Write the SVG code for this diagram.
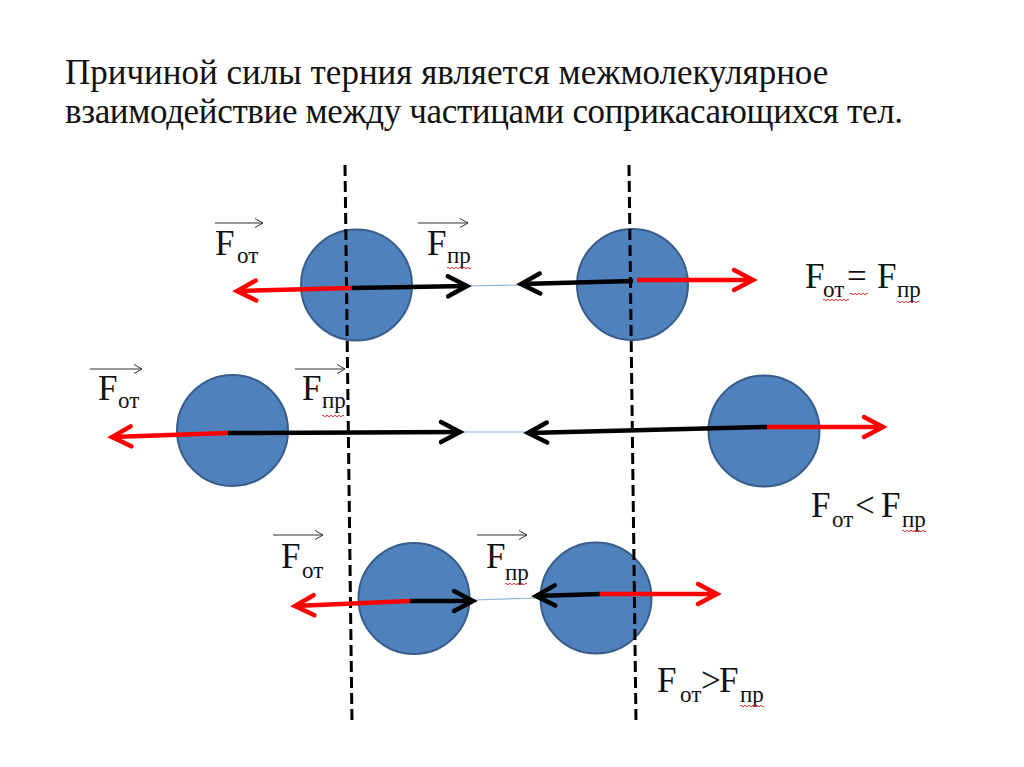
<svg xmlns="http://www.w3.org/2000/svg" width="1024" height="767" viewBox="0 0 1024 767">
<style>
.ball{fill:#4F81BD;stroke:#385D8A;stroke-width:2}
.dash{stroke:#000;stroke-width:3;stroke-dasharray:11 5;fill:none}
.blk{stroke:#000;stroke-width:4.5;fill:none;marker-end:url(#ahB)}
.red{stroke:#FF0000;stroke-width:4.5;fill:none;marker-end:url(#ahR)}
.thin{stroke:#8EB4E3;stroke-width:1.2;fill:none}
.vec{stroke:#333;stroke-width:1;fill:none;marker-end:url(#ahV)}
.sq{stroke:#E03030;stroke-width:1;fill:none}
</style>
<defs>
<marker id="ahB" markerUnits="userSpaceOnUse" viewBox="-25 -15 30 30" markerWidth="30" markerHeight="30" refX="0" refY="0" orient="auto" overflow="visible">
<path d="M-19 -10 L0 0 L-19 10" fill="none" stroke="#000" stroke-width="4.5" stroke-linecap="round" stroke-linejoin="miter"/>
</marker>
<marker id="ahR" markerUnits="userSpaceOnUse" viewBox="-25 -15 30 30" markerWidth="30" markerHeight="30" refX="0" refY="0" orient="auto" overflow="visible">
<path d="M-19 -10 L0 0 L-19 10" fill="none" stroke="#FF0000" stroke-width="4.5" stroke-linecap="round" stroke-linejoin="miter"/>
</marker>
<marker id="ahV" markerUnits="userSpaceOnUse" viewBox="-10 -6 12 12" markerWidth="12" markerHeight="12" refX="0" refY="0" orient="auto" overflow="visible">
<path d="M-8 -4.5 L0 0 L-8 4.5" fill="none" stroke="#333" stroke-width="1"/>
</marker>
</defs>

<g id="title">
<text font-family="Liberation Serif, serif" font-size="35" fill="#111" x="65" y="84">Причиной силы терния является межмолекулярное</text>
<text font-family="Liberation Serif, serif" font-size="35" fill="#111" x="65" y="123" textLength="838" lengthAdjust="spacing">взаимодействие между частицами соприкасающихся тел.</text>
</g>

<g id="row1-left-ball"><circle class="ball" cx="356.5" cy="285" r="55.5"/></g>
<g id="row1-right-ball"><circle class="ball" cx="632.5" cy="284.5" r="55.5"/></g>
<g id="row2-left-ball"><circle class="ball" cx="232.5" cy="430.5" r="55.5"/></g>
<g id="row2-right-ball"><circle class="ball" cx="764" cy="431" r="55.5"/></g>
<g id="row3-left-ball"><circle class="ball" cx="414" cy="598.5" r="55.5"/></g>
<g id="row3-right-ball"><circle class="ball" cx="596" cy="598" r="55.5"/></g>

<g id="boundaries">
<path class="dash" d="M345 165 L352 723"/>
<path class="dash" d="M629 165 L636 723"/>
</g>

<g id="connectors">
<path class="thin" d="M467 286 L521 285"/>
<path class="thin" d="M460 432 L528 432"/>
<path class="thin" d="M473 600 L537 598"/>
<path class="red" d="M352 288 L237 291"/>
<path class="blk" d="M352 288 L467 286"/>
<path class="blk" d="M633 281 L521 284"/>
<path class="red" d="M637 280 L753 280"/>
<path class="red" d="M228 433 L112 437"/>
<path class="blk" d="M228 433 L460 432"/>
<path class="blk" d="M767 427 L528 433"/>
<path class="red" d="M767 427 L883 427"/>
<path class="red" d="M410 601 L295 606"/>
<path class="blk" d="M410 601 L473 601"/>
<path class="blk" d="M600 594 L536 596"/>
<path class="red" d="M600 594 L717 594"/>
</g>

<g id="label-r1-fot">
<path class="vec" d="M215 223 L263 223"/>
<text font-family="Liberation Serif, serif" font-size="35" fill="#111" x="215" y="255">F</text><text font-family="Liberation Serif, serif" font-size="23" fill="#111" x="237" y="263">от</text>
</g>
<g id="label-r1-fpr">
<path class="vec" d="M418 223 L468 223"/>
<text font-family="Liberation Serif, serif" font-size="35" fill="#111" x="427" y="255">F</text><text font-family="Liberation Serif, serif" font-size="23" fill="#111" x="447" y="263">пр</text>
<path class="sq" d="M447 268 q1 -1.5 2 0 t2 0 t2 0 t2 0 t2 0 t2 0 t2 0 t2 0 t2 0 t2 0 t2 0 t2 0"/>
</g>
<g id="label-r1-eq">
<text font-family="Liberation Serif, serif" font-size="35" fill="#111" x="805" y="288">F</text><text font-family="Liberation Serif, serif" font-size="23" fill="#111" x="823" y="297">от</text><text font-family="Liberation Serif, serif" font-size="35" fill="#111" x="847" y="288">=</text>
<text font-family="Liberation Serif, serif" font-size="35" fill="#111" x="877" y="288">F</text><text font-family="Liberation Serif, serif" font-size="23" fill="#111" x="897" y="297">пр</text>
<path class="sq" d="M823 300 q1 -1.5 2 0 t2 0 t2 0 t2 0 t2 0 t2 0 t2 0 t2 0 t2 0 t2 0 t2 0 t2 0 t2 0"/>
<path class="sq" d="M850 294 q1 -1.5 2 0 t2 0 t2 0 t2 0 t2 0 t2 0 t2 0 t2 0 t2 0"/>
<path class="sq" d="M897 302 q1 -1.5 2 0 t2 0 t2 0 t2 0 t2 0 t2 0 t2 0 t2 0 t2 0 t2 0 t2 0"/>
</g>

<g id="label-r2-fot">
<path class="vec" d="M90 369 L142 369"/>
<text font-family="Liberation Serif, serif" font-size="35" fill="#111" x="98" y="400">F</text><text font-family="Liberation Serif, serif" font-size="23" fill="#111" x="118" y="408">от</text>
</g>
<g id="label-r2-fpr">
<path class="vec" d="M295 369 L345 369"/>
<text font-family="Liberation Serif, serif" font-size="35" fill="#111" x="302" y="400">F</text><text font-family="Liberation Serif, serif" font-size="23" fill="#111" x="322" y="408">пр</text>
<path class="sq" d="M322 416 q1 -1.5 2 0 t2 0 t2 0 t2 0 t2 0 t2 0 t2 0 t2 0 t2 0 t2 0 t2 0"/>
</g>
<g id="label-r2-lt">
<text font-family="Liberation Serif, serif" font-size="35" fill="#111" x="811" y="517">F</text><text font-family="Liberation Serif, serif" font-size="23" fill="#111" x="832" y="527">от</text><text font-family="Liberation Serif, serif" font-size="35" fill="#111" x="855" y="517">&lt;</text>
<text font-family="Liberation Serif, serif" font-size="35" fill="#111" x="881" y="517">F</text><text font-family="Liberation Serif, serif" font-size="23" fill="#111" x="902" y="527">пр</text>
<path class="sq" d="M902 531 q1 -1.5 2 0 t2 0 t2 0 t2 0 t2 0 t2 0 t2 0 t2 0 t2 0 t2 0 t2 0 t2 0"/>
</g>

<g id="label-r3-fot">
<path class="vec" d="M273 535 L323 535"/>
<text font-family="Liberation Serif, serif" font-size="35" fill="#111" x="281" y="568">F</text><text font-family="Liberation Serif, serif" font-size="23" fill="#111" x="302" y="578">от</text>
</g>
<g id="label-r3-fpr">
<path class="vec" d="M477 535 L527 535"/>
<text font-family="Liberation Serif, serif" font-size="35" fill="#111" x="486" y="568">F</text><text font-family="Liberation Serif, serif" font-size="23" fill="#111" x="505" y="580">пр</text>
<path class="sq" d="M505 584 q1 -1.5 2 0 t2 0 t2 0 t2 0 t2 0 t2 0 t2 0 t2 0 t2 0 t2 0 t2 0"/>
</g>
<g id="label-r3-gt">
<text font-family="Liberation Serif, serif" font-size="35" fill="#111" x="657" y="692">F</text><text font-family="Liberation Serif, serif" font-size="23" fill="#111" x="680" y="702">от</text><text font-family="Liberation Serif, serif" font-size="35" fill="#111" x="701" y="692">&gt;</text>
<text font-family="Liberation Serif, serif" font-size="35" fill="#111" x="719" y="692">F</text><text font-family="Liberation Serif, serif" font-size="23" fill="#111" x="740" y="702">пр</text>
<path class="sq" d="M740 706 q1 -1.5 2 0 t2 0 t2 0 t2 0 t2 0 t2 0 t2 0 t2 0 t2 0 t2 0 t2 0 t2 0"/>
</g>
</svg>
